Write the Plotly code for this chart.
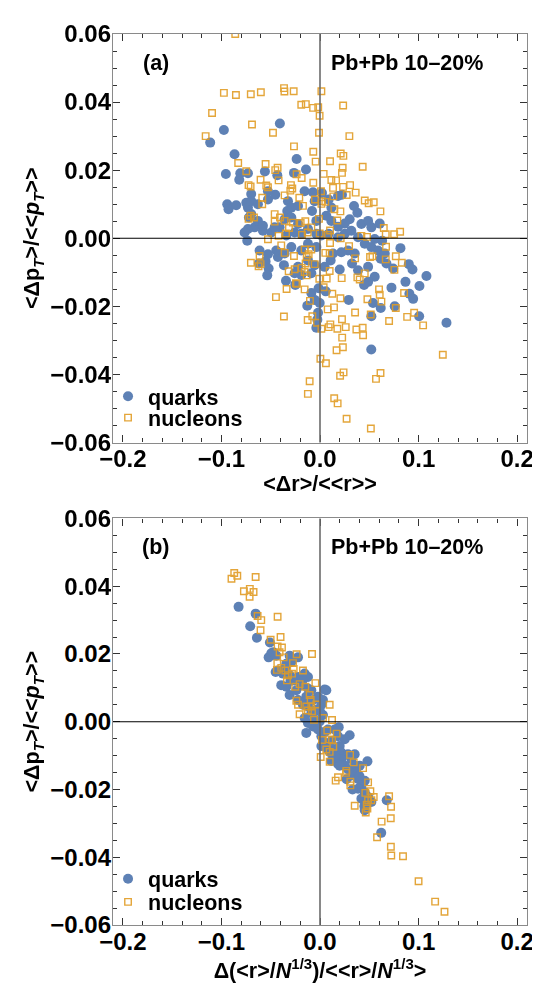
import plotly.graph_objects as go

# ---------------- data ----------------
# panel (a): <Δr>/<<r>> vs <Δp_T>/<<p_T>>
qa_x = [-0.1114,-0.0867,-0.0955,-0.0809,-0.0731,-0.0819,-0.0559,-0.0433,-0.0237,-0.0142,
        -0.0264,-0.0698,-0.0941,-0.0850,-0.0928,-0.0748,-0.0731,-0.0698,-0.0630,-0.0528,
        -0.0454,-0.0528,-0.0325,-0.0291,-0.0223,-0.0332,-0.0156,-0.0071,-0.0054,-0.0081,
        0.0020,0.0088,0.0115,0.0183,0.0223,0.0345,0.0379,0.0301,0.0251,0.0183,
        0.0115,0.0064,-0.0037,-0.0122,-0.0190,-0.0257,-0.0342,-0.0410,-0.0494,-0.0579,
        -0.0664,-0.0731,-0.0765,-0.0738,-0.0630,-0.0721,-0.0698,-0.0579,-0.0460,-0.0359,
        -0.0291,-0.0223,-0.0037,0.0014,0.0088,0.0183,0.0251,0.0318,0.0386,0.0454,
        0.0420,0.0488,0.0521,0.0606,0.0630,0.0555,0.0521,0.0589,0.0657,0.0616,
        0.0816,0.0901,0.0938,0.1080,0.0867,0.1009,0.0907,0.0945,0.0725,0.0758,
        0.0538,0.0616,0.0555,0.0488,0.0447,0.0488,0.0386,0.0325,0.0352,0.0284,
        0.0217,0.0132,0.0108,0.0200,0.0047,-0.0037,-0.0122,-0.0190,-0.0291,-0.0359,
        -0.0427,-0.0366,-0.0223,-0.0257,-0.0190,-0.0088,-0.0054,-0.0122,-0.0444,-0.0528,
        -0.0613,-0.0552,-0.0521,-0.0535,-0.0620,-0.0345,-0.0251,-0.0088,-0.0014,0.0058,
        -0.0003,-0.0054,-0.0129,-0.0020,-0.0027,-0.0037,0.0291,0.0521,0.1006,0.1283,
        0.0674,0.0742,-0.0975,-0.0407,0.0520]
qa_y = [0.0281,0.0247,0.0189,0.0191,0.0191,0.0172,0.0196,0.0185,0.0233,0.0202,
        0.0192,0.0130,0.0100,0.0097,0.0085,0.0104,0.0090,0.0109,0.0100,0.0114,
        0.0128,0.0138,0.0109,0.0090,0.0095,0.0080,0.0138,0.0135,0.0109,0.0080,
        0.0133,0.0114,0.0090,0.0124,0.0128,0.0095,0.0075,0.0056,0.0043,0.0034,
        0.0051,0.0066,0.0051,0.0027,0.0013,0.0017,0.0008,0.0032,0.0017,0.0022,
        0.0032,0.0027,0.0017,-0.0007,0.0051,0.0061,0.0071,0.0037,0.0032,0.0056,
        0.0061,0.0042,0.0013,0.0008,0.0013,0.0003,0.0013,0.0022,0.0003,-0.0016,
        0.0042,0.0051,0.0032,0.0043,-0.0007,-0.0002,-0.0026,-0.0036,-0.0045,-0.0060,
        -0.0029,-0.0076,-0.0092,-0.0111,-0.0128,-0.0140,-0.0163,-0.0178,-0.0145,-0.0200,
        -0.0190,-0.0205,-0.0113,-0.0128,-0.0137,-0.0084,-0.0094,-0.0074,-0.0045,-0.0036,
        -0.0041,-0.0045,-0.0065,-0.0092,-0.0084,-0.0026,-0.0016,-0.0036,-0.0026,-0.0045,
        -0.0055,-0.0079,-0.0084,-0.0103,-0.0108,-0.0103,-0.0079,-0.0065,-0.0036,-0.0047,
        -0.0036,-0.0068,-0.0089,-0.0109,-0.0074,-0.0125,-0.0137,-0.0161,-0.0147,-0.0156,
        -0.0190,-0.0181,-0.0198,-0.0219,-0.0239,-0.0263,-0.0181,-0.0229,-0.0229,-0.0248,
        -0.0074,-0.0089,0.0318,0.0337,-0.0327]

na_x = [-0.0264,-0.0068,0.0210,0.0237,-0.0830,-0.0552,-0.0044,0.0102,0.0433,0.0230,
        -0.0430,-0.0454,-0.0748,-0.0237,-0.0186,0.0037,0.0223,-0.0603,-0.0420,0.0115,
        0.0163,-0.0068,-0.0725,-0.0704,-0.0545,-0.0528,-0.0295,-0.0281,-0.0301,0.0132,
        0.0234,0.0305,0.0010,0.0362,0.0271,-0.0359,-0.0210,-0.0586,-0.0051,0.0020,
        0.0135,0.0054,0.0454,0.0494,0.0545,-0.0586,-0.0173,0.0014,0.0146,0.0207,
        0.0613,-0.0460,-0.0704,-0.0670,-0.0725,-0.0460,-0.0406,-0.0359,-0.0274,-0.0196,
        -0.0149,-0.0010,0.0176,-0.0315,-0.0088,-0.0125,-0.0183,-0.0345,-0.0420,-0.0528,
        -0.0003,0.0081,0.0102,0.0210,0.0420,0.0477,0.0647,0.0667,0.0752,0.0813,
        -0.0393,0.0102,0.0670,0.0295,-0.0156,-0.0088,-0.0115,-0.0359,-0.0613,0.0054,
        0.0098,-0.0264,-0.0135,-0.0701,-0.0603,-0.0623,0.0356,0.0508,0.0532,0.0769,
        0.0667,0.0830,-0.0146,-0.0054,-0.0318,-0.0257,-0.0186,-0.0156,-0.0135,0.0098,
        0.0454,0.0755,0.0220,0.0379,0.0403,-0.0007,0.0068,-0.0244,-0.0234,0.0037,
        -0.0339,-0.0156,0.0125,0.0599,0.0606,0.0853,-0.0447,0.0207,0.0481,0.0623,
        -0.0102,0.0142,0.0078,0.0769,0.0356,0.0515,0.0955,0.0884,-0.0366,-0.0078,
        -0.0125,0.0223,0.0701,-0.0030,0.0105,0.0088,0.0176,0.0261,0.0369,0.0433,
        0.1046,0.0014,0.0437,
        -0.0860,-0.0975,-0.0853,-0.0702,-0.0600,-0.0365,-0.0361,-0.0267,0.0014,-0.0190,
        -0.0144,-0.0070,-0.0018,-0.0004,0.0235,-0.1095,-0.0690,-0.0477,-0.0010,0.0298,
        -0.1160,
        0.1246,0.0004,0.0060,0.0168,0.0232,-0.0105,-0.0123,0.0239,0.0204,0.0614,
        0.0568,0.0144,0.0179,0.0270,0.0516,0.0225]
na_y = [0.0270,0.0254,0.0249,0.0242,0.0221,0.0218,0.0225,0.0226,0.0210,0.0207,
        0.0207,0.0200,0.0197,0.0188,0.0177,0.0189,0.0192,0.0172,0.0170,0.0171,
        0.0170,0.0163,0.0156,0.0152,0.0155,0.0150,0.0156,0.0146,0.0140,0.0148,
        0.0151,0.0156,0.0138,0.0134,0.0127,0.0126,0.0119,0.0119,0.0114,0.0109,
        0.0123,0.0107,0.0111,0.0103,0.0106,0.0100,0.0095,0.0101,0.0085,0.0079,
        0.0079,0.0071,0.0066,0.0061,0.0057,0.0049,0.0061,0.0051,0.0046,0.0045,
        0.0050,0.0057,0.0052,0.0030,0.0032,0.0017,0.0010,0.0014,0.0007,-0.0003,
        0.0014,0.0010,0.0023,0.0000,0.0007,0.0004,0.0030,0.0012,0.0012,0.0019,
        -0.0021,-0.0014,-0.0025,-0.0023,-0.0033,-0.0033,-0.0047,-0.0043,-0.0052,-0.0043,
        -0.0044,-0.0052,-0.0055,-0.0072,-0.0076,-0.0082,-0.0059,-0.0055,-0.0053,-0.0053,
        -0.0062,-0.0072,-0.0074,-0.0076,-0.0097,-0.0091,-0.0087,-0.0099,-0.0109,-0.0096,
        -0.0103,-0.0093,-0.0117,-0.0115,-0.0121,-0.0119,-0.0118,-0.0132,-0.0134,-0.0144,
        -0.0149,-0.0150,-0.0163,-0.0150,-0.0166,-0.0161,-0.0173,-0.0176,-0.0179,-0.0186,
        -0.0184,-0.0203,-0.0209,-0.0205,-0.0218,-0.0224,-0.0219,-0.0231,-0.0230,-0.0229,
        -0.0240,-0.0238,-0.0243,-0.0248,-0.0253,-0.0261,-0.0266,-0.0261,-0.0268,-0.0263,
        -0.0256,-0.0266,-0.0285,
        0.0600,0.0427,0.0421,0.0423,0.0429,0.0441,0.0431,0.0432,0.0432,0.0392,
        0.0394,0.0383,0.0385,0.0360,0.0390,0.0368,0.0334,0.0310,0.0310,0.0300,
        0.0300,
        -0.0342,-0.0354,-0.0367,-0.0329,-0.0320,-0.0420,-0.0457,-0.0394,-0.0404,-0.0396,
        -0.0413,-0.0470,-0.0485,-0.0530,-0.0559,-0.0292]

# panel (b): Δ(<r>/N^{1/3})/<<r>/N^{1/3}> vs <Δp_T>/<<p_T>>
qb_x = [-0.0826,-0.0653,-0.0708,-0.0640,-0.0508,-0.0494,-0.0521,-0.0474,-0.0444,-0.0308,
        -0.0223,-0.0291,-0.0342,-0.0427,-0.0450,-0.0376,-0.0308,-0.0223,-0.0156,-0.0122,
        -0.0190,-0.0393,-0.0342,-0.0308,-0.0240,-0.0264,-0.0122,-0.0088,-0.0139,-0.0223,
        -0.0173,-0.0122,-0.0071,-0.0020,0.0047,0.0064,0.0030,0.0014,-0.0037,-0.0088,
        -0.0156,-0.0122,-0.0054,0.0030,-0.0003,-0.0139,-0.0071,-0.0020,0.0014,0.0081,
        0.0149,0.0190,0.0301,0.0251,0.0183,0.0115,0.0047,0.0014,0.0081,0.0149,
        0.0200,0.0217,0.0284,0.0352,0.0318,0.0217,0.0149,0.0115,0.0183,0.0251,
        0.0284,0.0352,0.0403,0.0481,0.0369,0.0318,0.0386,0.0454,0.0420,0.0386,
        0.0454,0.0488,0.0420,0.0454,0.0521,0.0677,0.0454,0.0621,
        -0.0350,-0.0300,-0.0180,-0.0100,0.0000,0.0050,0.0100,0.0200,0.0270,0.0330,
        0.0400,0.0450]
qb_y = [0.0339,0.0319,0.0282,0.0248,0.0234,0.0202,0.0190,0.0205,0.0195,0.0195,
        0.0190,0.0176,0.0171,0.0151,0.0147,0.0142,0.0137,0.0132,0.0142,0.0132,
        0.0108,0.0108,0.0103,0.0079,0.0093,0.0122,0.0098,0.0093,0.0074,0.0064,
        0.0050,0.0045,0.0064,0.0074,0.0095,0.0093,0.0064,0.0050,0.0035,0.0025,
        0.0011,-0.0004,0.0006,0.0020,0.0001,-0.0033,-0.0014,-0.0023,-0.0043,-0.0023,
        -0.0023,-0.0016,-0.0040,-0.0052,-0.0043,-0.0057,-0.0062,-0.0072,-0.0082,-0.0082,
        -0.0072,-0.0091,-0.0096,-0.0096,-0.0111,-0.0111,-0.0101,-0.0116,-0.0125,-0.0130,
        -0.0140,-0.0130,-0.0130,-0.0117,-0.0150,-0.0159,-0.0169,-0.0174,-0.0188,-0.0198,
        -0.0208,-0.0222,-0.0227,-0.0247,-0.0237,-0.0232,-0.0261,-0.0328,
        0.0160,0.0120,0.0120,0.0060,0.0030,-0.0030,-0.0090,-0.0130,-0.0170,-0.0200,
        -0.0160,-0.0250]

nb_x = [-0.0772,-0.0714,-0.0674,-0.0633,-0.0596,-0.0430,-0.0603,-0.0501,-0.0400,-0.0430,
        -0.0386,-0.0410,-0.0369,-0.0237,-0.0081,-0.0433,-0.0274,-0.0393,-0.0437,-0.0352,
        -0.0267,-0.0173,-0.0284,-0.0325,-0.0335,-0.0047,-0.0251,-0.0149,-0.0207,-0.0105,
        -0.0095,-0.0240,-0.0223,-0.0139,-0.0088,-0.0037,-0.0122,-0.0081,0.0098,-0.0207,
        -0.0061,0.0030,0.0122,0.0074,0.0169,0.0095,0.0020,0.0122,0.0135,0.0064,
        0.0098,0.0007,0.0098,0.0305,0.0342,0.0437,0.0267,0.0264,0.0183,0.0159,
        0.0308,0.0308,0.0488,0.0460,0.0511,0.0545,0.0488,0.0521,0.0474,0.0481,
        0.0464,0.0701,0.0721,0.0352,0.0718,
        -0.0898,-0.0870,-0.0839,-0.0712,-0.0653,
        0.0625,0.0579,0.0719,0.0723,0.0842,0.1000,0.1168,0.1263]
nb_y = [0.0385,0.0369,0.0383,0.0312,0.0300,0.0310,0.0270,0.0242,0.0250,0.0222,
        0.0219,0.0205,0.0190,0.0199,0.0200,0.0173,0.0173,0.0159,0.0153,0.0151,
        0.0156,0.0151,0.0142,0.0137,0.0122,0.0114,0.0103,0.0103,0.0111,0.0079,
        0.0064,0.0062,0.0050,0.0045,0.0045,0.0051,0.0033,0.0031,0.0050,0.0022,
        0.0006,0.0011,0.0005,-0.0026,-0.0035,-0.0052,-0.0054,-0.0054,-0.0074,-0.0082,
        -0.0089,-0.0104,-0.0118,-0.0098,-0.0120,-0.0137,-0.0145,-0.0151,-0.0164,-0.0174,
        -0.0177,-0.0188,-0.0179,-0.0210,-0.0205,-0.0222,-0.0232,-0.0232,-0.0245,-0.0256,
        -0.0268,-0.0220,-0.0251,-0.0248,-0.0285,
        0.0422,0.0439,0.0431,0.0392,0.0427,
        -0.0295,-0.0341,-0.0369,-0.0395,-0.0397,-0.0471,-0.0531,-0.0561]

x_ticks = [-0.2, -0.1, 0.0, 0.1, 0.2]
y_ticks = [-0.06, -0.04, -0.02, 0.00, 0.02, 0.04, 0.06]

# ---------------- style ----------------
BLUE = "#5E81B5"
ORANGE = "#E19C24"
FONT = "Liberation Sans"
FS = 21.5      # labels, legend, titles
FT = 24        # tick labels

fig = go.Figure()

def add_panel(qx, qy, nx, ny, xa, ya, leg_q, leg_n):
    fig.add_trace(go.Scatter(x=qx, y=qy, mode="markers", name="quarks",
                             xaxis=xa, yaxis=ya, legend=leg_q,
                             marker=dict(symbol="circle", size=10, color=BLUE)))
    fig.add_trace(go.Scatter(x=nx, y=ny, mode="markers", name="nucleons",
                             xaxis=xa, yaxis=ya, legend=leg_n,
                             marker=dict(symbol="square-open", size=6.5, color=ORANGE,
                                         line=dict(width=1.4, color=ORANGE)),
                             opacity=0.9))

add_panel(qa_x, qa_y, na_x, na_y, "x", "y", "legend", "legend3")
add_panel(qb_x, qb_y, nb_x, nb_y, "x2", "y2", "legend2", "legend4")

tickfont = dict(family=FONT, size=FT, color="black", weight="bold")
titlefont = dict(family=FONT, size=FS, color="black", weight="bold")

def xaxis_cfg(anchor, title, standoff):
    return dict(anchor=anchor, range=[-0.21, 0.21], tickvals=x_ticks, tickformat=".1f",
                ticks="inside", ticklen=7, tickwidth=1, tickcolor="#333",
                minor=dict(dtick=0.02, tick0=0, ticks="inside", ticklen=4, tickcolor="#333"),
                mirror="allticks", showline=True, linecolor="#8a8a8a", linewidth=1.3,
                showgrid=False, zeroline=False, tickfont=tickfont, ticklabelstandoff=-5,
                title=dict(text=title, font=titlefont, standoff=standoff))

def yaxis_cfg(anchor, domain):
    return dict(anchor=anchor, domain=domain, range=[-0.06, 0.06], tickvals=y_ticks,
                tickformat=".2f",
                ticks="inside", ticklen=7, tickwidth=1, tickcolor="#333",
                minor=dict(dtick=0.005, tick0=0, ticks="inside", ticklen=4, tickcolor="#333"),
                mirror="allticks", showline=True, linecolor="#8a8a8a", linewidth=1.3,
                showgrid=False, zeroline=False, tickfont=tickfont, ticklabelstandoff=-4,
                title=dict(text="&lt;Δp<sub><i>T</i></sub>&gt;/&lt;&lt;<i>p</i><sub><i>T</i></sub>&gt;&gt;",
                           font=titlefont, standoff=4))

legend_common = dict(xanchor="left", yanchor="middle", bgcolor="rgba(0,0,0,0)",
                     font=dict(family=FONT, size=FS, color="black", weight="bold"),
                     tracegroupgap=0, itemwidth=30)
LX = -0.012

fig.update_layout(
    width=540, height=985,
    margin=dict(l=105, r=21, t=14, b=68),
    paper_bgcolor="white", plot_bgcolor="white",
    xaxis=xaxis_cfg("y", "&lt;Δr&gt;/&lt;&lt;r&gt;&gt;", 4),
    yaxis=yaxis_cfg("x", [0.5415, 1.0]),
    xaxis2=xaxis_cfg("y2", "Δ(&lt;r&gt;/<i>N</i><sup>1/3</sup>)/&lt;&lt;r&gt;/<i>N</i><sup>1/3</sup>&gt;", 0),
    yaxis2=yaxis_cfg("x2", [0.0, 0.4563]),
    legend=dict(x=LX, y=0.5935, **legend_common),
    legend3=dict(x=LX, y=0.5694, **legend_common),
    legend2=dict(x=LX, y=0.0518, **legend_common),
    legend4=dict(x=LX, y=0.0259, **legend_common),
    showlegend=True,
)

# axes lines through the origin, drawn above the points
for xr, yr in (("x", "y"), ("x2", "y2")):
    fig.add_shape(type="line", xref=xr, yref=yr + " domain", x0=0, x1=0, y0=0, y1=1,
                  line=dict(color="#6b6b6b", width=1.6), layer="above")
    fig.add_shape(type="line", xref=xr + " domain", yref=yr, x0=0, x1=1, y0=0, y1=0,
                  line=dict(color="black", width=1.1), layer="above")

labfont = dict(family=FONT, size=FS, color="black", weight="bold")
for xr, yr, tag in (("x", "y", "(a)"), ("x2", "y2", "(b)")):
    fig.add_annotation(x=-0.1667, y=0.0516, xref=xr, yref=yr, text=tag,
                       showarrow=False, font=labfont)
    fig.add_annotation(x=0.088, y=0.0516, xref=xr, yref=yr, text="Pb+Pb 10–20%",
                       showarrow=False, font=labfont)

fig.write_html("out.html")
